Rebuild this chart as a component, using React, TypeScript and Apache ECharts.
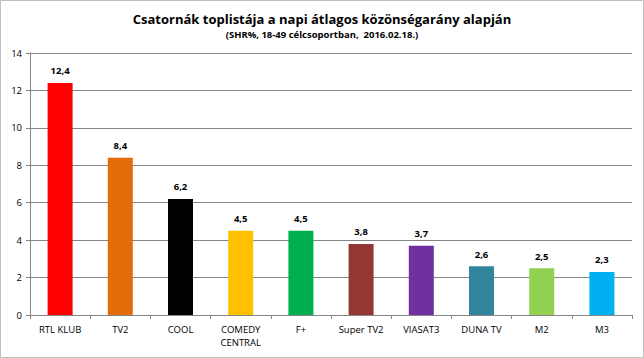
import React, { useEffect, useRef } from "react";
import * as echarts from "echarts";

const categories = ["RTL KLUB", "TV2", "COOL", "COMEDY\nCENTRAL", "F+", "Super TV2", "VIASAT3", "DUNA TV", "M2", "M3"];
const values = [12.4, 8.4, 6.2, 4.5, 4.5, 3.8, 3.7, 2.6, 2.5, 2.3];
const colors = ["#ff0000", "#e46c0a", "#000000", "#ffc000", "#00b050", "#953735", "#7030a0", "#31859c", "#92d050", "#00b0f0"];
const titleText = "Csatornák toplistája a napi átlagos közönségarány alapján";
const subtitleText = "(SHR%, 18-49 célcsoportban,  2016.02.18.)";

const FONT = "'Open Sans', 'Noto Sans', sans-serif";

export default function App() {
  const ref = useRef<HTMLDivElement>(null);
  useEffect(() => {
    const chart = echarts.init(ref.current!, null, { renderer: "svg" });
    chart.setOption({
      animation: false,
      backgroundColor: "#ffffff",
      title: [
        {
          text: titleText,
          left: "center",
          top: 11,
          padding: 0,
          textStyle: { fontFamily: FONT, fontSize: 13, fontWeight: "bold", color: "#000", lineHeight: 16 },
        },
        {
          text: subtitleText,
          left: "center",
          top: 28,
          padding: 0,
          textStyle: { fontFamily: FONT, fontSize: 9.5, fontWeight: "bold", color: "#000", lineHeight: 12 },
        },
      ],
      graphic: [
        {
          type: "rect",
          shape: { x: 0.5, y: 0.5, width: 643, height: 357 },
          style: { fill: "none", stroke: "#bfbfbf", lineWidth: 1 },
          silent: true,
        },
      ],
      grid: { left: 30, right: 12, top: 53, bottom: 43, containLabel: false },
      xAxis: {
        type: "category",
        data: categories,
        axisLine: { lineStyle: { color: "#868686" } },
        axisTick: { show: true, alignWithLabel: false, length: 4, lineStyle: { color: "#868686" } },
        axisLabel: { fontFamily: FONT, fontSize: 9.5, color: "#000", interval: 0, margin: 8, lineHeight: 13 },
      },
      yAxis: {
        type: "value",
        min: 0,
        max: 14,
        interval: 2,
        axisLine: { show: true, lineStyle: { color: "#868686" } },
        axisTick: { show: true, length: 4, lineStyle: { color: "#868686" } },
        axisLabel: { fontFamily: FONT, fontSize: 9.5, color: "#000", margin: 8 },
        splitLine: { lineStyle: { color: "#868686" } },
      },
      series: [
        {
          type: "bar",
          data: values.map((v, i) => ({ value: v, itemStyle: { color: colors[i] } })),
          barWidth: 25,
          label: {
            show: true,
            position: "top",
            distance: 7,
            fontFamily: FONT,
            fontSize: 9.5,
            fontWeight: "bold",
            color: "#000",
            formatter: (p: any) => String(p.value.toFixed(1)).replace(".", ","),
          },
        },
      ],
    });
    return () => chart.dispose();
  }, []);
  return <div ref={ref} style={{ position: "absolute", left: 0, top: 0, width: 644, height: 358 }} />;
}
